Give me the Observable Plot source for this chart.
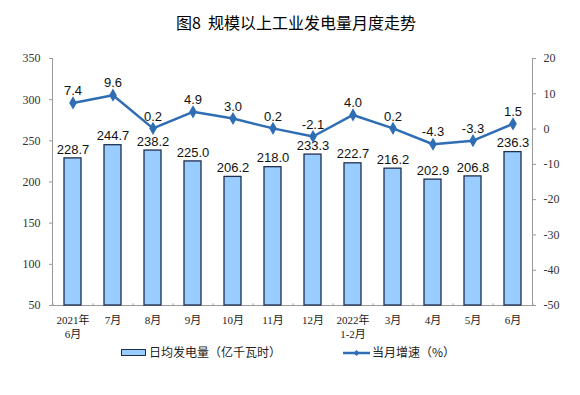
<!DOCTYPE html>
<html>
<head>
<meta charset="utf-8">
<script src="https://cdn.jsdelivr.net/npm/d3@7"></script>
<script src="https://cdn.jsdelivr.net/npm/@observablehq/plot@0.6"></script>
<style>
  body { margin: 0; background: #fff; width: 580px; height: 395px; position: relative; overflow: hidden; }
  #title { height: 44px; line-height: 45px; text-align: center; padding-left: 12px; box-sizing: border-box; font-family: "Noto Sans CJK SC", sans-serif; font-weight: normal; font-size: 16px; color: #000; white-space: pre; }
  #chart svg { display: block; }
  #legend { position: absolute; top: 343px; left: 0; width: 580px; height: 18px; font-family: "Noto Sans CJK SC", sans-serif; font-size: 12px; color: #222; }
  .item { position: absolute; top: 0; height: 18px; line-height: 18px; white-space: nowrap; }
</style>
</head>
<body>
<div id="title">图8  规模以上工业发电量月度走势</div>
<div id="chart"></div>
<div id="legend">
  <div class="item" style="left:121px"><span style="display:inline-block;width:23px;height:5px;background:#99CCFF;border:1.3px solid #1F2F4F;vertical-align:middle;margin-right:3px;position:relative;top:-1px"></span>日均发电量（亿千瓦时）</div>
  <div class="item" style="left:343px"><svg width="27" height="10" style="vertical-align:middle;margin-right:2px;position:relative;top:-1px"><line x1="0" y1="5" x2="27" y2="5" stroke="#2F6DB5" stroke-width="2.5"/><path d="M13.5,2 L16.5,5 L13.5,8 L10.5,5 Z" fill="#2F6DB5"/></svg>当月增速（%）</div>
</div>
<script>
const categories = ["2021年\n6月", "7月", "8月", "9月", "10月", "11月", "12月", "2022年\n1-2月", "3月", "4月", "5月", "6月"];
const dailyOutput = [228.7, 244.7, 238.2, 225.0, 206.2, 218.0, 233.3, 222.7, 216.2, 202.9, 206.8, 236.3];
const growth = [7.4, 9.6, 0.2, 4.9, 3.0, 0.2, -2.1, 4.0, 0.2, -4.3, -3.3, 1.5];
const leftTicks = [50, 100, 150, 200, 250, 300, 350];
const rightTicks = [20, 10, 0, -10, -20, -30, -40, -50];

const leftDomain = [50, 350];
const rightDomain = [-50, 20];
const toY = p => leftDomain[0] + (p - rightDomain[0]) * (leftDomain[1] - leftDomain[0]) / (rightDomain[1] - rightDomain[0]);
const fromY = v => rightDomain[0] + (v - leftDomain[0]) * (rightDomain[1] - rightDomain[0]) / (leftDomain[1] - leftDomain[0]);

const data = categories.map((c, i) => ({cat: c, value: dailyOutput[i], pct: growth[i], py: toY(growth[i])}));

const serif = "'Liberation Serif', 'Times New Roman', 'Noto Sans CJK SC', serif";
const sans = "'Liberation Sans', Arial, sans-serif";

const chart = Plot.plot({
  width: 580,
  height: 300,
  marginLeft: 52,
  marginRight: 48,
  marginTop: 14,
  marginBottom: 39,
  style: {fontFamily: serif, fontSize: "12px", color: "#333", background: "#fff"},
  x: {domain: categories, paddingInner: 0.58, paddingOuter: 0.29, label: null},
  y: {domain: leftDomain, label: null},
  marks: [
    Plot.frame({anchor: "left", stroke: "#999"}),
    Plot.frame({anchor: "right", stroke: "#999"}),
    Plot.ruleY([50], {stroke: "#999"}),
    Plot.ruleX(categories, {x: d => d, dx: -20, y1: 50, y2: 52, stroke: "#999"}),
    Plot.ruleX(categories.slice(-1), {x: d => d, dx: 20, y1: 50, y2: 52, stroke: "#999"}),
    Plot.axisY({anchor: "left", ticks: leftTicks, tickSize: 3, tickPadding: 9, stroke: "#999", fontSize: 12, fontFamily: serif, fill: "#333"}),
    Plot.axisY({anchor: "right", ticks: rightTicks.map(toY), tickFormat: v => String(Math.round(fromY(v))), tickSize: 3, tickPadding: 8, stroke: "#999", fontSize: 12, fontFamily: serif, fill: "#333"}),
    Plot.axisX({anchor: "bottom", tickSize: 0, tickPadding: 9, fontSize: 11, lineHeight: 1.25, fontFamily: serif, fill: "#222"}),
    Plot.barY(data, {x: "cat", y1: 50, y2: "value", fill: "#99CCFF", stroke: "#1F2F4F", strokeWidth: 1.3}),
    Plot.text(data, {x: "cat", y: "value", text: d => d.value.toFixed(1), dy: -9, fontSize: 13, fontFamily: sans, fill: "#111"}),
    Plot.line(data, {x: "cat", y: "py", stroke: "#2F6DB5", strokeWidth: 2.5}),
    Plot.dot(data, {x: "cat", y: "py", symbol: "diamond", r: 4, fill: "#2F6DB5", stroke: "none"}),
    Plot.text(data, {x: "cat", y: "py", text: d => d.pct.toFixed(1), dy: -12, fontSize: 13, fontFamily: sans, fill: "#111"})
  ]
});
document.getElementById("chart").append(chart);
</script>
</body>
</html>
